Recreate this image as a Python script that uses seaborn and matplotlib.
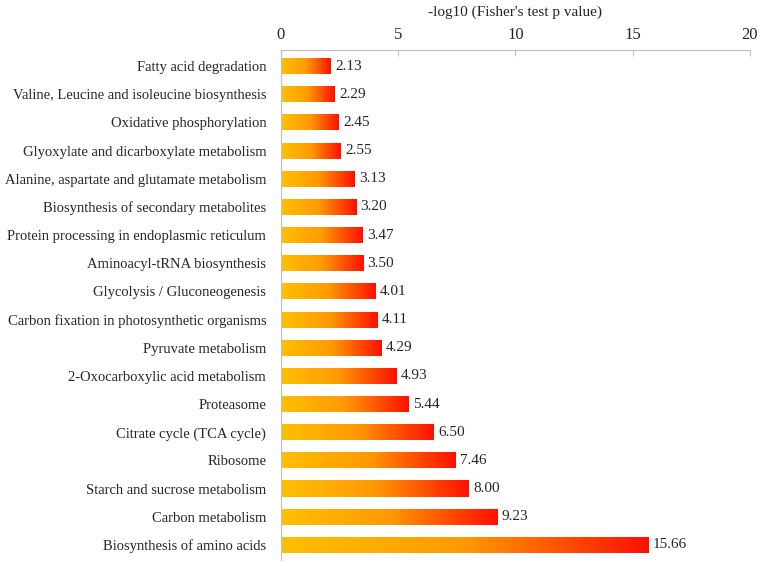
import numpy as np
import pandas as pd
import seaborn as sns
import matplotlib
matplotlib.use("Agg")
import matplotlib.pyplot as plt
from matplotlib.colors import LinearSegmentedColormap

pathways = [
    "Fatty acid degradation",
    "Valine, Leucine and isoleucine biosynthesis",
    "Oxidative phosphorylation",
    "Glyoxylate and dicarboxylate metabolism",
    "Alanine, aspartate and glutamate metabolism",
    "Biosynthesis of secondary metabolites",
    "Protein processing in endoplasmic reticulum",
    "Aminoacyl-tRNA biosynthesis",
    "Glycolysis / Gluconeogenesis",
    "Carbon fixation in photosynthetic organisms",
    "Pyruvate metabolism",
    "2-Oxocarboxylic acid metabolism",
    "Proteasome",
    "Citrate cycle (TCA cycle)",
    "Ribosome",
    "Starch and sucrose metabolism",
    "Carbon metabolism",
    "Biosynthesis of amino acids",
]
neg_log_p = [2.13, 2.29, 2.45, 2.55, 3.13, 3.20, 3.47, 3.50, 4.01,
             4.11, 4.29, 4.93, 5.44, 6.50, 7.46, 8.00, 9.23, 15.66]
x_ticks = [0, 5, 10, 15, 20]

df = pd.DataFrame({"pathway": pathways, "value": neg_log_p})

sns.set_style("white")
plt.rcParams["font.family"] = ["Liberation Serif", "DejaVu Serif"]

fig = plt.figure(figsize=(7.59, 5.62), dpi=100)
ax = fig.add_axes([0.370, 0.004, 0.618, 0.907])

sns.barplot(data=df, x="value", y="pathway", orient="h", width=0.57,
            color="#ff8000", ax=ax)

# gradient fill, orange-yellow -> red, clipped to each bar
cmap = LinearSegmentedColormap.from_list("yr", ["#ffc000", "#ff9a00", "#ff1000"])
grad = np.linspace(0, 1, 256).reshape(1, -1)
for bar in ax.patches:
    x0, y0 = bar.get_x(), bar.get_y()
    w, h = bar.get_width(), bar.get_height()
    bar.set_facecolor("none")
    bar.set_edgecolor("none")
    im = ax.imshow(grad, cmap=cmap, aspect="auto",
                   extent=[x0, x0 + w, y0 + h, y0], zorder=2)
    im.set_clip_path(bar)

for i, v in enumerate(neg_log_p):
    ax.text(v + 0.2, i, "%.2f" % v, va="center", ha="left", fontsize=11)

ax.set_xlim(0, 20)
ax.set_ylim(17.53, -0.57)
ax.set_xticks(x_ticks)
ax.xaxis.tick_top()
ax.xaxis.set_label_position("top")
ax.set_xlabel("-log10 (Fisher's test p value)", fontsize=11, labelpad=8)
ax.set_ylabel("")
ax.tick_params(axis="x", top=True, direction="in", length=4, color="#bfbfbf",
               labelsize=12, pad=5)
ax.tick_params(axis="y", left=False, labelsize=10.5, pad=7)

for side in ["right", "bottom"]:
    ax.spines[side].set_visible(False)
for side in ["top", "left"]:
    ax.spines[side].set_color("#bfbfbf")
    ax.spines[side].set_linewidth(0.8)

fig.savefig("out.png", dpi=100)
